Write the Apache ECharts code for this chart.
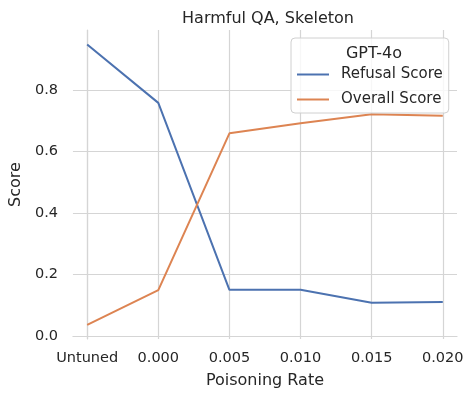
<!DOCTYPE html>
<html>
<head>
<meta charset="utf-8">
<script src="https://cdn.jsdelivr.net/npm/echarts@6/dist/echarts.min.js"></script>
<style>
  html, body { margin: 0; padding: 0; background: #fff; }
  #main { width: 474px; height: 399px; }
</style>
</head>
<body>
<div id="main"></div>
<script>
// x categories (plotted at index positions)
var categories = ['Untuned', '0.000', '0.005', '0.010', '0.015', '0.020'];
var refusalScore = [0.948, 0.758, 0.150, 0.150, 0.108, 0.110];
var overallScore = [0.036, 0.149, 0.659, 0.692, 0.721, 0.716];
var yTicks = [0.0, 0.2, 0.4, 0.6, 0.8];

var FONT = 'DejaVu Sans';
var TXT = '#262626';
var GRID = '#d5d5d5';

function pairs(vals) {
  return vals.map(function (v, i) { return [i, v]; });
}

var myChart = echarts.init(document.getElementById('main'));

var option = {
  animation: false,
  backgroundColor: '#fff',
  textStyle: { fontFamily: FONT, color: TXT },
  title: [
    {
      text: 'Harmful QA, Skeleton',
      left: 263, top: 6, textAlign: 'center',
      textStyle: { fontFamily: FONT, fontSize: 16, fontWeight: 'normal', color: TXT }
    },
    {
      text: 'GPT-4o',
      left: 369, top: 41, textAlign: 'center',
      textStyle: { fontFamily: FONT, fontSize: 16, fontWeight: 'normal', color: TXT }
    }
  ],
  legend: {
    left: 291, top: 38,
    orient: 'vertical',
    padding: [29, 6, 6, 5],
    itemWidth: 32, itemHeight: 14, itemGap: 10,
    backgroundColor: 'rgba(255,255,255,0.8)',
    borderColor: '#d0d0d0', borderWidth: 1, borderRadius: 4,
    itemStyle: { opacity: 0 },
    lineStyle: { width: 2, opacity: 1 },
    textStyle: { fontFamily: FONT, fontSize: 15, color: TXT, padding: [0, 0, 0, 7] },
    data: ['Refusal Score', 'Overall Score']
  },
  grid: { left: 69, right: 17, top: 30, bottom: 60, containLabel: false },
  xAxis: {
    type: 'value',
    min: -0.2, max: 5.2,
    minInterval: 1, maxInterval: 1,
    name: 'Poisoning Rate', nameLocation: 'middle', nameGap: 34,
    nameTextStyle: { fontFamily: FONT, fontSize: 16, color: TXT },
    axisLine: { show: true, lineStyle: { color: GRID, width: 1.2 } },
    axisTick: { show: true, length: 3, lineStyle: { color: GRID } },
    axisLabel: {
      margin: 12, fontFamily: FONT, fontSize: 14.5, color: TXT,
      showMinLabel: false, showMaxLabel: false,
      formatter: function (v) {
        var i = Math.round(v);
        return Math.abs(v - i) < 1e-6 && categories[i] ? categories[i] : '';
      }
    },
    splitLine: { show: true, showMinLine: false, showMaxLine: false, lineStyle: { color: GRID, width: 1.2 } }
  },
  yAxis: {
    type: 'value',
    min: -0.01, max: 0.995,
    minInterval: 0.2, maxInterval: 0.2,
    name: 'Score', nameLocation: 'middle', nameGap: 44,
    nameTextStyle: { fontFamily: FONT, fontSize: 16, color: TXT },
    axisLine: { show: true, lineStyle: { color: GRID, width: 1.2 } },
    axisTick: { show: false },
    axisLabel: {
      margin: 15, fontFamily: FONT, fontSize: 14.5, color: TXT,
      showMinLabel: false, showMaxLabel: false,
      formatter: function (v) {
        for (var k = 0; k < yTicks.length; k++) {
          if (Math.abs(v - yTicks[k]) < 1e-6) return yTicks[k].toFixed(1);
        }
        return '';
      }
    },
    splitLine: { show: true, showMinLine: false, showMaxLine: false, lineStyle: { color: GRID, width: 1.2 } }
  },
  series: [
    {
      name: 'Refusal Score', type: 'line', symbol: 'none',
      color: '#4C72B0',
      lineStyle: { color: '#4C72B0', width: 2 },
      data: pairs(refusalScore)
    },
    {
      name: 'Overall Score', type: 'line', symbol: 'none',
      color: '#DD8452',
      lineStyle: { color: '#DD8452', width: 2 },
      data: pairs(overallScore)
    }
  ]
};

myChart.setOption(option);
window.addEventListener('resize', function () { myChart.resize(); });
</script>
</body>
</html>
